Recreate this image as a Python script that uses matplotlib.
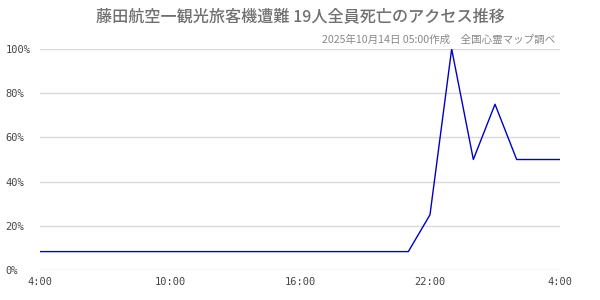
import matplotlib
matplotlib.use("Agg")
import matplotlib.pyplot as plt

plt.rcParams['font.family'] = ['Noto Sans CJK JP', 'DejaVu Sans']

# hourly access share, 4:00 -> 4:00 next day (percent of peak)
hours = list(range(25))
access_pct = [8.33] * 18 + [25, 100, 50, 75, 50, 50, 50]

x_tick_pos = [0, 6, 12, 18, 24]
x_tick_labels = ["4:00", "10:00", "16:00", "22:00", "4:00"]
y_tick_pos = [0, 20, 40, 60, 80, 100]
y_tick_labels = ["0%", "20%", "40%", "60%", "80%", "100%"]

title = "藤田航空一観光旅客機遭難 19人全員死亡のアクセス推移"
subtitle = "2025年10月14日 05:00作成　全国心霊マップ調べ"

fig = plt.figure(figsize=(6, 3), dpi=100)
ax = fig.add_axes([40 / 600, 30 / 300, 520 / 600, 221 / 300])

ax.plot(hours, access_pct, color="#0000c8", lw=1.0, zorder=3)

ax.set_xlim(0, 24)
ax.set_ylim(0, 100)
ax.set_yticks(y_tick_pos)
ax.set_yticklabels(y_tick_labels)
ax.set_xticks(x_tick_pos)
ax.set_xticklabels(x_tick_labels)

ax.grid(axis="y", color="#d9d9d9", lw=1)
ax.set_axisbelow(True)
for s in ax.spines.values():
    s.set_visible(False)

ax.tick_params(axis="both", length=0, colors="#444444", labelsize=7.5)
ax.tick_params(axis="y", pad=25)
ax.tick_params(axis="x", pad=5)
for lbl in ax.get_yticklabels():
    lbl.set_horizontalalignment("left")
    lbl.set_family(["DejaVu Sans Mono"])
for lbl in ax.get_xticklabels():
    lbl.set_family(["DejaVu Sans Mono"])

fig.text(0.5, 1 - 17 / 300, title, ha="center", va="center",
         fontsize=11.6, color="#707070", fontweight="medium")
fig.text(555 / 600, 1 - 40 / 300, subtitle, ha="right", va="center",
         fontsize=7.6, color="#888888")

fig.savefig("out.png", dpi=100)
